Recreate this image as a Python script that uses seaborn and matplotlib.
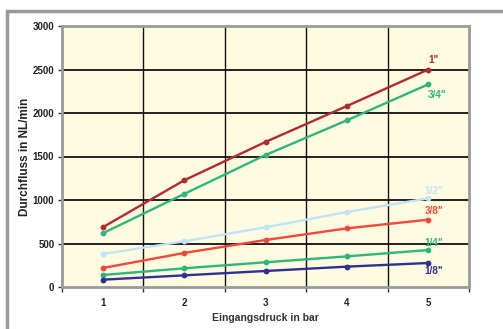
import matplotlib
matplotlib.use("Agg")
import matplotlib.pyplot as plt
import seaborn as sns
import pandas as pd
from matplotlib.patches import Rectangle

pressure = [1, 2, 3, 4, 5]
sizes = ['1"', '3/4"', '1/2"', '3/8"', '1/4"', '1/8"']
flow_1 = [686, 1226, 1667, 2080, 2500]
flow_3_4 = [617, 1069, 1517, 1916, 2330]
flow_1_2 = [379, 525, 686, 862, 1019]
flow_3_8 = [218, 391, 540, 674, 774]
flow_1_4 = [138, 215, 284, 352, 425]
flow_1_8 = [84, 134, 184, 234, 276]
colors = ["#B02A30", "#2DB57C", "#BFE4F6", "#F2483A", "#2DB57C", "#2E3192"]
x_label = "Eingangsdruck in bar"
y_label = "Durchfluss in NL/min"

series = [flow_1, flow_3_4, flow_1_2, flow_3_8, flow_1_4, flow_1_8]
rows = []
for name, vals in zip(sizes, series):
    for p, v in zip(pressure, vals):
        rows.append({"bar": p, "flow": v, "size": name})
df = pd.DataFrame(rows)

sns.set_theme(style="white")
plt.rcParams['font.family'] = ['Liberation Sans', 'DejaVu Sans']

fig = plt.figure(figsize=(5.03, 3.29), dpi=100)
fig.patch.set_facecolor("white")
fig.patches.append(Rectangle((7 / 503, -0.1), 1.2, 1 - 11 / 329 + 0.1, transform=fig.transFigure,
                             fill=False, edgecolor="#9A9A9A", linewidth=2.5, zorder=0))
ax = fig.add_axes([62 / 503, 42 / 329, 407 / 503, 261 / 329])
ax.set_facecolor("#FEFBE1")

sns.lineplot(data=df, x="bar", y="flow", hue="size", hue_order=sizes,
             palette=colors, marker="o", markersize=4.2, markeredgewidth=0,
             linewidth=1.7, legend=False, ax=ax, zorder=3)

ax.set_xlim(0.5, 5.5)
ax.set_ylim(0, 3000)
ax.set_xticks(pressure)
ax.set_xticks([0.5, 1.5, 2.5, 3.5, 4.5, 5.5], minor=True)
ax.set_yticks(range(0, 3001, 500))
ax.grid(False)
for xv in [1.5, 2.5, 3.5, 4.5]:
    ax.axvline(xv, color="#111111", linewidth=1, zorder=1)
for yv in range(500, 3000, 500):
    ax.axhline(yv, color="#111111", linewidth=1.3, zorder=1)

ax.tick_params(axis="x", which="major", length=0, pad=8, labelsize=7, labelcolor="#222222")
ax.tick_params(axis="x", which="minor", length=3.5, width=1, color="#333333", direction="out", bottom=True)
ax.tick_params(axis="y", which="major", length=3, width=1, color="#333333", direction="out", left=True,
               labelsize=7, labelcolor="#222222", pad=2.5)
for lab in ax.get_xticklabels() + ax.get_yticklabels():
    lab.set_fontweight("bold")

for side, sp in ax.spines.items():
    sp.set_visible(True)
    sp.set_color("#9A9A9A")
    sp.set_linewidth(2)

ax.set_xlabel(x_label, fontsize=7.5, fontweight="bold", color="#333333")
ax.set_ylabel(y_label, fontsize=8.5, fontweight="bold", color="#222222")
ax.xaxis.set_label_coords(0.5, -0.098)
ax.yaxis.set_label_coords(-0.077, 0.5)

offsets = {'1"': (4, 7), '3/4"': (6, -7.5), '1/2"': (4, 5.5), '3/8"': (4, 6), '1/4"': (4, 4.8), '1/8"': (4, -5.5)}
for name, vals, c in zip(sizes, series, colors):
    ax.annotate(name, (pressure[-1], vals[-1]), xytext=offsets[name], textcoords="offset points",
                ha="center", va="center", fontsize=7.2, fontweight="bold", color=c, zorder=4)

fig.savefig("out.png", dpi=100)
